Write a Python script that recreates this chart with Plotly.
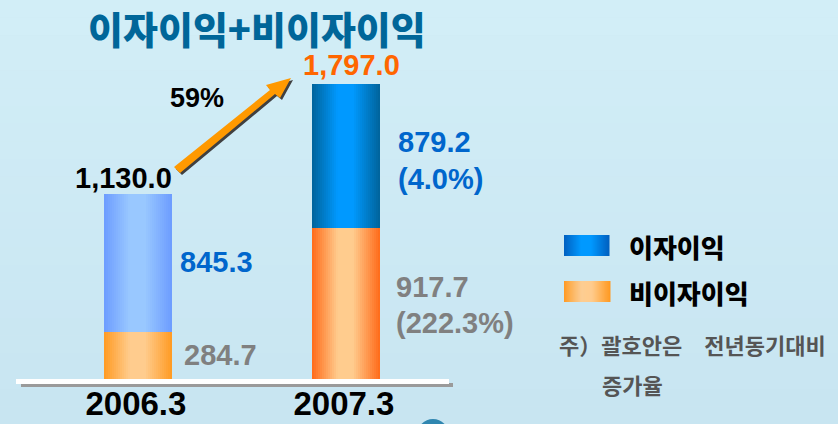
import plotly.graph_objects as go

categories = ["2006.3", "2007.3"]
interest = [845.3, 879.2]
non_interest = [284.7, 917.7]
totals = ["1,130.0", "1,797.0"]
title_text = "이자이익+비이자이익"
growth_label = "59%"
interest_labels = ["845.3", "879.2", "(4.0%)"]
non_interest_labels = ["284.7", "917.7", "(222.3%)"]
legend_names = ["이자이익", "비이자이익"]
note_lines = ["주）괄호안은\u3000전년동기대비", "증가율"]

W, H = 838, 424
PX_PER_UNIT = 295 / 1797
BASE_Y = 379
L, R = 16, 452
CX0, STEP = 138, 208
BAR_W = 68
N = 34
ARIAL = "Liberation Sans"
CJK = "Noto Sans CJK KR"


def px(x):
    return x / W


def py(y):
    return 1 - y / H


def hex2rgb(c):
    return tuple(int(c[i:i + 2], 16) for i in (1, 3, 5))


def grad(edge_l, centre, edge_r, t):
    # flat centre between 0.38 and 0.6
    if t < 0.38:
        a, b, f = edge_l, centre, t / 0.38
    elif t < 0.6:
        return "rgb(%d,%d,%d)" % hex2rgb(centre)
    else:
        a, b, f = centre, edge_r, (t - 0.6) / 0.4
    ca, cb = hex2rgb(a), hex2rgb(b)
    return "rgb(%d,%d,%d)" % tuple(round(p + (q - p) * f) for p, q in zip(ca, cb))


interest_cols = [("#6c9cff", "#99c8ff", "#6c9cff"), ("#00639a", "#0099ff", "#00639a")]
non_cols = [("#ff9a22", "#ffcc8e", "#ff9a22"), ("#ff6a18", "#ffcc8e", "#ff6a18")]

fig = go.Figure()
x_idx = [0, 1]
unit_w = BAR_W / STEP
strip = unit_w / N
for i in range(N):
    t = (i + 0.5) / N
    off = -unit_w / 2 + i * strip
    fig.add_trace(go.Bar(x=x_idx, y=non_interest, base=[0, 0], width=strip * 1.02, offset=off,
                         marker=dict(color=[grad(*c, t) for c in non_cols], line_width=0),
                         hoverinfo="skip", showlegend=False))
    fig.add_trace(go.Bar(x=x_idx, y=interest, base=non_interest, width=strip * 1.02, offset=off,
                         marker=dict(color=[grad(*c, t) for c in interest_cols], line_width=0),
                         hoverinfo="skip", showlegend=False))

shapes = []
# soft background wash
bands = 24
for i in range(bands):
    f = i / (bands - 1)
    c = tuple(round(a + (b - a) * f) for a, b in zip((210, 238, 247), (200, 229, 241)))
    shapes.append(dict(type="rect", xref="paper", yref="paper", x0=0, x1=1,
                       y0=1 - i / bands, y1=1 - (i + 1) / bands,
                       fillcolor="rgb(%d,%d,%d)" % c, line_width=0, layer="below"))


def rect(x0, y0, x1, y1, color, layer="above"):
    shapes.append(dict(type="rect", xref="paper", yref="paper", x0=px(x0), x1=px(x1),
                       y0=py(y0), y1=py(y1), fillcolor=color, line_width=0, layer=layer))


# baseline
rect(21, 383, 453, 387, "#9a9a9a")
rect(16, 379, 449, 384, "#ffffff")


# legend swatches
def swatch(x0, y0, x1, y1, cols):
    n = 45
    for i in range(n):
        t = (i + 0.5) / n
        xa = x0 + (x1 - x0) * i / n
        xb = x0 + (x1 - x0) * (i + 1) / n + 0.5
        rect(xa, y0, xb, y1, grad(*cols, t))


swatch(564, 235, 609, 256, ("#0060c0", "#0099ff", "#0060c0"))
swatch(564, 281, 610, 302, non_cols[0])


# growth arrow
def arrow_path(dx=0, dy=0):
    pts = [(174, 167), (270, 90), (266, 85), (291, 78), (280, 98), (275, 94), (180, 173)]
    return "M" + " L".join(f"{px(x + dx):.5f},{py(y + dy):.5f}" for x, y in pts) + " Z"


shapes.append(dict(type="path", xref="paper", yref="paper", path=arrow_path(2, 2),
                   fillcolor="#404040", line_width=0))
shapes.append(dict(type="path", xref="paper", yref="paper", path=arrow_path(),
                   fillcolor="#ff9900", line_width=0))
# globe fragment
shapes.append(dict(type="circle", xref="paper", yref="paper", x0=px(417), x1=px(449),
                   y0=py(451), y1=py(419), fillcolor="#2f86b0", line_width=0))

notes = []


def label(x, y, text, size, color, family=ARIAL, anchor="center", weight=700):
    notes.append(dict(x=px(x), y=py(y), xref="paper", yref="paper", text=text, showarrow=False,
                      xanchor=anchor, yanchor="middle",
                      font=dict(family=family, size=size, color=color, weight=weight)))


label(257, 28, title_text, 38, "#006699", CJK, weight=900)
label(351, 65, totals[1], 29, "#ff6600")
label(124, 178, totals[0], 29, "#000000")
label(197, 98, growth_label, 27, "#000000")
label(216, 262, interest_labels[0], 29, "#0066cc")
label(434, 142, interest_labels[1], 29, "#0066cc")
label(440, 179, interest_labels[2], 29, "#0066cc")
label(220, 355, non_interest_labels[0], 29, "#808080")
label(432, 287, non_interest_labels[1], 29, "#808080")
label(455, 323, non_interest_labels[2], 29, "#808080")
label(627, 246, legend_names[0], 26, "#000000", CJK, "left", 900)
label(627, 292, legend_names[1], 26, "#000000", CJK, "left", 900)
label(557, 344, note_lines[0], 22, "#555555", CJK, "left")
label(600, 384, note_lines[1], 22, "#555555", CJK, "left")

fig.update_layout(
    width=W, height=H, margin=dict(l=0, r=0, t=0, b=0),
    paper_bgcolor="#cde8f3", plot_bgcolor="rgba(0,0,0,0)",
    barmode="overlay", bargap=0, showlegend=False,
    shapes=shapes, annotations=notes,
    xaxis=dict(domain=[L / W, R / W], range=[(L - CX0) / STEP, (R - CX0) / STEP],
               tickmode="array", tickvals=[-0.01, 0.99], ticktext=categories,
               tickfont=dict(family=ARIAL, size=33, color="#000000", weight=700),
               ticks="", showgrid=False, zeroline=False, showline=False,
               ticklabelstandoff=2, fixedrange=True),
    yaxis=dict(domain=[(H - BASE_Y) / H, 1], range=[0, BASE_Y / PX_PER_UNIT], visible=False,
               fixedrange=True),
)
fig.write_html("out.html", config=dict(displayModeBar=False),
               post_script="document.documentElement.style.margin='0';document.body.style.margin='0';document.body.style.overflow='hidden';")
